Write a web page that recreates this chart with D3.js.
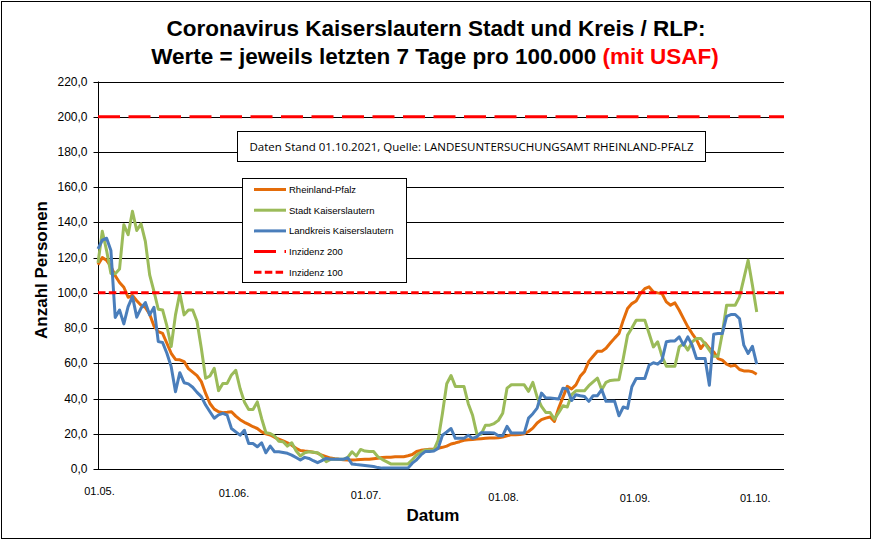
<!DOCTYPE html>
<html>
<head>
<meta charset="utf-8">
<script src="https://cdn.jsdelivr.net/npm/d3@7"></script>
<style>
  body { margin: 0; background: #fff; }
  svg { display: block; font-family: Arial, "Liberation Sans", sans-serif; }
</style>
</head>
<body>
<svg width="873" height="541"></svg>
<script>
// 7-Tage-Inzidenz, daily values from 01.05.2021 to 01.10.2021
const rlp = [
  116, 120, 118.5, 115, 109.7, 105.9, 103.2, 97.5, 98.5, 95.5,
  93, 91.7, 87.9, 81.2, 78, 77, 71.4, 65.7, 62.2, 62,
  61, 57, 55, 53, 49.6, 42.9, 37.2, 34, 32.5, 32,
  32.2, 32.5, 30, 28, 26.5, 25.3, 24, 23, 21.1, 20,
  19.3, 18, 17, 16, 14.9, 13.5, 11.8, 10.5, 10.2, 10,
  9.5, 9, 7.8, 7, 6.2, 5.8, 5.5, 5.3, 5.1, 5.1,
  5.2, 5.4, 5.5, 5.5, 5.8, 6.1, 6.5, 6.7, 6.7, 6.9,
  7, 7, 7.5, 8.2, 9.9, 10.6, 11, 11.2, 11.2, 11.8,
  12.3, 13, 14.2, 14.8, 15.5, 16.3, 16.6, 16.8, 17, 17.2,
  17.4, 17.6, 17.6, 17.8, 18.1, 18.8, 19.5, 19.5, 19.6, 20,
  21.3, 23.2, 26.1, 28, 28.9, 29.5, 27, 34.6, 40.8, 46.9,
  45.4, 47.8, 52.6, 55.4, 61.1, 64, 66.8, 66.8, 68.6, 71.5,
  74.3, 76.9, 84.5, 91.1, 93.9, 95.4, 99.6, 102.4, 103.4, 100.5,
  100, 99.6, 94.9, 93, 94.3, 90.1, 85.4, 80.7, 76.9, 73.5,
  68.4, 71.6, 68.4, 66.5, 62.7, 61.8, 59.5, 58.4, 58.9, 56.5,
  55.7, 55.7, 55.2, 53.8
];
const stadt = [
  117, 135, 124, 111, 110.8, 113.5, 138.7, 133, 146.3, 135.4,
  139.2, 129.2, 110.2, 100.8, 90.7, 90.3, 81.2, 69.5, 87.5, 99.8,
  87.5, 90.3, 90.3, 83.7, 68.5, 51.5, 52.8, 57.2, 44.5, 48.6,
  48.6, 53.4, 56, 45.7, 38.1, 33.8, 33.8, 38.1, 28.7, 20.6,
  20.2, 18.7, 15.8, 15.5, 13, 14.9, 10.4, 7.4, 9.2, 9.8,
  9.5, 9.2, 7.4, 4.2, 5.5, 5.5, 5.5, 5.5, 6.6, 9.8,
  7.4, 11.1, 10.2, 10, 9.9, 7, 5.5, 4.2, 2.9, 2.9,
  2.9, 2.9, 2.9, 5.2, 8, 9.5, 10.8, 10.8, 10.8, 16.4,
  31.5, 48.4, 53.1, 46.9, 46.9, 46.9, 37.1, 30.5, 19.8, 19.8,
  24.9, 24.9, 25.8, 27.6, 31.7, 45.9, 47.8, 47.8, 47.8, 47.8,
  44.1, 49.2, 40.8, 35.5, 32.1, 32.1, 28.3, 32, 35.9, 35.2,
  42.2, 44.4, 44.4, 44.4, 47.3, 49.5, 51.6, 45, 49.2, 50.3,
  50.5, 50.7, 62.7, 76, 80, 84.5, 84.5, 84.5, 76.9, 69.3,
  72.2, 64, 58.4, 58.4, 58.4, 69.3, 71.2, 67.5, 72.2, 74.1,
  74.1, 71, 67.5, 64, 64, 76.9, 93, 93, 93, 97.7,
  108.1, 118.5, 104.3, 89.2
];
const landkreis = [
  125, 130, 131, 124, 86, 90.3, 82.4, 92.2, 97.9, 86.2,
  91.3, 94.5, 87.5, 91.8, 72.3, 71.8, 65.7, 58.1, 43.9, 54.7,
  49, 48.3, 46.4, 43.5, 41.1, 36.3, 32.5, 28.8, 30.7, 31.6,
  30.6, 23, 21.1, 19.2, 22, 14.5, 14.5, 12.6, 14.9, 9.2,
  13, 9.8, 9.8, 9.4, 8.9, 7.9, 6.5, 5.1, 6.6, 6,
  4.7, 3.6, 4.8, 6, 5.5, 5.5, 5.5, 5.5, 6.4, 2.8,
  2.5, 2.3, 2, 1.7, 1.4, 0.8, 0.5, 0.5, 0.5, 0.5,
  0.5, 0.5, 0.5, 3.3, 5.2, 8, 9.9, 9.9, 10.2, 11.7,
  19.2, 21, 23, 17.4, 17.4, 17.4, 19.2, 17.4, 18.3, 20.6,
  20.6, 20.6, 20.4, 18.9, 18.9, 24.2, 20.4, 20.4, 20.4, 20.4,
  28.9, 31.4, 34.6, 43.1, 40.3, 40.3, 40, 39.7, 45.9, 45.4,
  38.9, 42.2, 41.6, 41.2, 38.4, 41.6, 41.6, 45, 38.4, 38.4,
  38.4, 30.2, 35.2, 34.4, 46.7, 51.4, 51.4, 51.4, 58.9, 60.3,
  59.5, 61.8, 72.2, 72.7, 72.7, 75, 70.3, 75, 70.3, 62.7,
  62.7, 62.7, 47.6, 76.5, 76.9, 76.9, 86.7, 87.7, 87.7, 85.4,
  70.3, 65.6, 69.7, 59.5
];

const seriesNames = ["Rheinland-Pfalz", "Stadt Kaiserslautern", "Landkreis Kaiserslautern"];
const thresholdNames = ["Inzidenz 200", "Inzidenz 100"];
const thresholds = [200, 100];
const yTicks = [0, 20, 40, 60, 80, 100, 120, 140, 160, 180, 200, 220];
const xTickDates = ["2021-05-01", "2021-06-01", "2021-07-01", "2021-08-01", "2021-09-01", "2021-10-01"];
const xTickLabels = ["01.05.", "01.06.", "01.07.", "01.08.", "01.09.", "01.10."];
const infoText = "Daten Stand 01.10.2021, Quelle: LANDESUNTERSUCHUNGSAMT RHEINLAND-PFALZ";

const svg = d3.select("svg");
const W = 873, H = 541;
const plot = { left: 98, right: 784, top: 81.5, bottom: 469 };

const startDay = new Date(2021, 4, 1);
const dates = d3.timeDay.range(startDay, d3.timeDay.offset(startDay, rlp.length));
const parse = d3.timeParse("%Y-%m-%d");

const x = d3.scaleTime()
  .domain([startDay, new Date(2021, 9, 7, 8)])
  .range([plot.left, plot.right]);
const y = d3.scaleLinear().domain([0, 220]).range([plot.bottom, plot.top]);

const colors = ["#E46C0A", "#9BBB59", "#4A7EBB"];
const red = "#FF0000";
const dash200 = "22,8.5";
const dash100 = "7.5,3.3";

// outer frame
svg.append("rect")
  .attr("x", 1.5).attr("y", 1.5)
  .attr("width", W - 4).attr("height", H - 4)
  .attr("fill", "#fff").attr("stroke", "#000").attr("stroke-width", 1);

// title
const title = svg.append("text")
  .attr("text-anchor", "middle")
  .attr("font-weight", "bold")
  .attr("font-size", 22.5);
title.append("tspan").attr("x", 436).attr("y", 36)
  .text("Coronavirus Kaiserslautern Stadt und Kreis / RLP:");
const t2 = title.append("tspan").attr("x", 435).attr("y", 64);
t2.append("tspan").text("Werte = jeweils letzten 7 Tage pro 100.000 ");
t2.append("tspan").attr("fill", red).text("(mit USAF)");

// gridlines
svg.append("g")
  .selectAll("line")
  .data(yTicks.filter((d) => d > 0))
  .join("line")
  .attr("x1", plot.left).attr("x2", plot.right)
  .attr("y1", (d) => Math.round(y(d)) + 0.5)
  .attr("y2", (d) => Math.round(y(d)) + 0.5)
  .attr("stroke", "#000").attr("stroke-width", 1);

// y axis
const yAxis = svg.append("g")
  .attr("transform", `translate(${plot.left + 0.5},0)`)
  .call(
    d3.axisLeft(y)
      .tickValues(yTicks)
      .tickSize(5)
      .tickPadding(6)
      .tickFormat((d) => d3.format(".1f")(d).replace(".", ","))
  );
yAxis.select(".domain").attr("stroke", "#000").attr("d", `M0,${plot.top}V${plot.bottom}`);
yAxis.selectAll(".tick line").attr("stroke", "#000");
yAxis.selectAll(".tick").attr("transform", (d) => `translate(0,${Math.round(y(d)) + 0.5})`);
yAxis.selectAll(".tick text")
  .attr("font-size", 12)
  .attr("font-family", "Arial, 'Liberation Sans', sans-serif")
  .attr("fill", "#000");

// x axis (labels sit a little lower towards the right, as in the source)
const labelDrop = [0, 1.5, 3.5, 5.5, 6.5, 6.5];
const labelShift = [0, 1, 4, 8, 6, -3];
const xAxis = svg.append("g")
  .attr("transform", `translate(0,${plot.bottom + 0.5})`)
  .call(
    d3.axisBottom(x)
      .tickValues(xTickDates.map(parse))
      .tickSize(0)
      .tickPadding(18)
      .tickFormat((d, i) => xTickLabels[i])
  );
xAxis.select(".domain").attr("stroke", "#000").attr("d", `M${plot.left},0H${plot.right}`);
xAxis.selectAll(".tick text")
  .attr("font-size", 11)
  .attr("font-family", "Arial, 'Liberation Sans', sans-serif")
  .attr("fill", "#000")
  .attr("dx", (d, i) => 1 + labelShift[i])
  .attr("y", (d, i) => 18 + labelDrop[i]);

// axis titles
svg.append("text")
  .attr("x", 433).attr("y", 521)
  .attr("text-anchor", "middle")
  .attr("font-weight", "bold").attr("font-size", 17)
  .text("Datum");
svg.append("text")
  .attr("transform", "translate(47,270) rotate(-90)")
  .attr("text-anchor", "middle")
  .attr("font-weight", "bold").attr("font-size", 17)
  .text("Anzahl Personen");

// series
const line = d3.line()
  .x((d, i) => x(dates[i]))
  .y((d) => y(d));

svg.append("g")
  .selectAll("path")
  .data([rlp, stadt, landkreis])
  .join("path")
  .attr("d", line)
  .attr("fill", "none")
  .attr("stroke", (d, i) => colors[i])
  .attr("stroke-width", 3)
  .attr("stroke-linejoin", "round");

// thresholds
svg.append("g")
  .selectAll("line")
  .data(thresholds)
  .join("line")
  .attr("x1", plot.left).attr("x2", plot.right)
  .attr("y1", (d) => y(d)).attr("y2", (d) => y(d))
  .attr("stroke", red)
  .attr("stroke-width", 3)
  .attr("stroke-dasharray", (d, i) => (i === 0 ? dash200 : dash100));

// info box
const info = svg.append("g");
info.append("rect")
  .attr("x", 237.5).attr("y", 131.5)
  .attr("width", 468).attr("height", 30)
  .attr("fill", "#fff").attr("stroke", "#000");
info.append("text")
  .attr("x", 471.5).attr("y", 150.5)
  .attr("text-anchor", "middle")
  .attr("font-size", 11.5)
  .attr("font-family", "'Open Sans', 'Liberation Sans', sans-serif")
  .text(infoText);

// legend
const legendItems = [
  ...seriesNames.map((name, i) => ({ name, color: colors[i], dash: null })),
  { name: thresholdNames[0], color: red, dash: dash200 },
  { name: thresholdNames[1], color: red, dash: dash100 },
];
const legend = svg.append("g");
legend.append("rect")
  .attr("x", 242.5).attr("y", 178.5)
  .attr("width", 164).attr("height", 104)
  .attr("fill", "#fff").attr("stroke", "#000");
const item = legend.selectAll("g")
  .data(legendItems)
  .join("g")
  .attr("transform", (d, i) => `translate(0,${189.5 + i * 20.7})`);
item.append("line")
  .attr("x1", 254).attr("x2", 286)
  .attr("stroke", (d) => d.color)
  .attr("stroke-width", 3)
  .attr("stroke-dasharray", (d) => d.dash);
item.append("text")
  .attr("x", 289).attr("y", 3.5)
  .attr("font-size", 9.5)
  .text((d) => d.name);
</script>
</body>
</html>
